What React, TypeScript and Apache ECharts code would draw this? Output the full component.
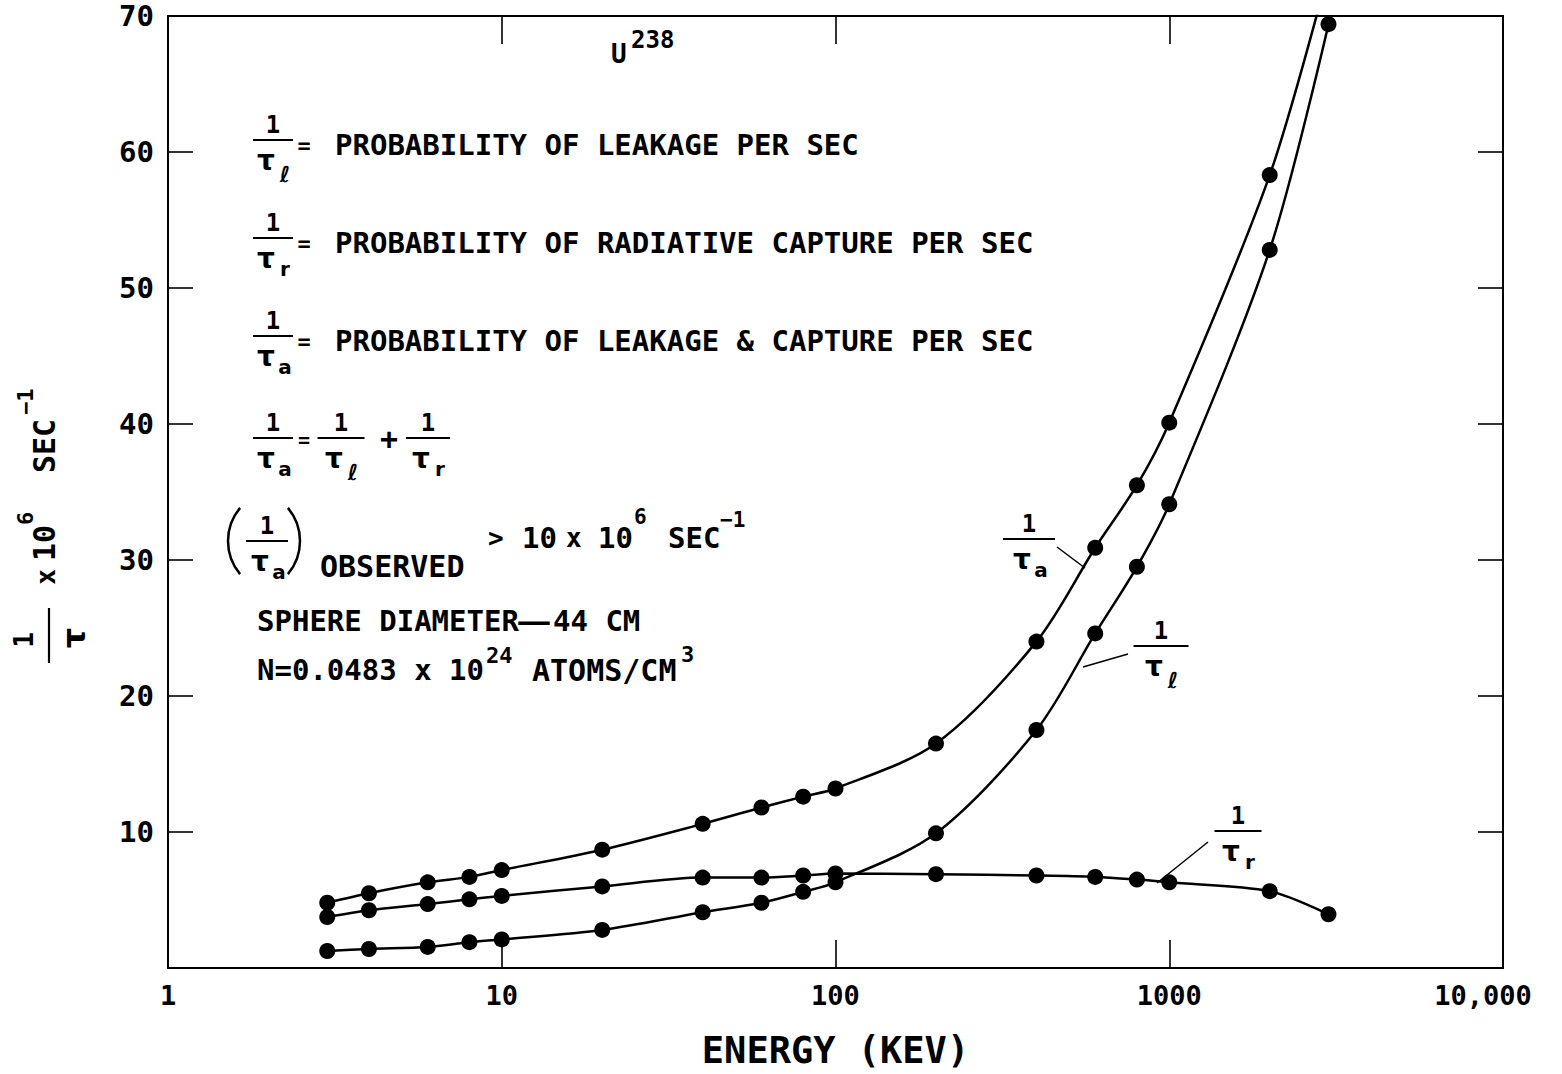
import React, { useEffect, useRef } from "react";
import * as echarts from "echarts";

// ---- data ----
const energyKeV = [3, 4, 6, 8, 10, 20, 40, 60, 80, 100, 200, 400, 600, 800, 1000, 2000, 3000];
// 1/tau_a (leakage & capture); last value only continues the curve above the frame
const invTauA = [4.8, 5.5, 6.3, 6.7, 7.2, 8.7, 10.6, 11.8, 12.6, 13.2, 16.5, 24.0, 30.9, 35.5, 40.1, 58.3, 73.3];
// 1/tau_l (leakage)
const invTauL = [1.25, 1.4, 1.55, 1.9, 2.1, 2.8, 4.1, 4.8, 5.6, 6.3, 9.9, 17.5, 24.6, 29.5, 34.1, 52.8, 69.4];
// 1/tau_r (radiative capture)
const invTauR = [3.75, 4.25, 4.7, 5.05, 5.3, 6.0, 6.65, 6.65, 6.8, 6.95, 6.9, 6.8, 6.7, 6.5, 6.3, 5.65, 3.95];

const xTickLabels = ["1", "10", "100", "1000", "10,000"];
const yTickValues = [10, 20, 30, 40, 50, 60, 70];
const definitionTexts = [
  "PROBABILITY OF LEAKAGE PER SEC",
  "PROBABILITY OF RADIATIVE CAPTURE PER SEC",
  "PROBABILITY OF LEAKAGE & CAPTURE PER SEC",
];
const definitionSubs = ["ℓ", "r", "a"];

const MONO = "'DejaVu Sans Mono', 'DejaVu Sans', monospace";
const GREEK = "'DejaVu Sans', sans-serif";

function txt(x: number, y: number, text: string, size: number, align = "left", family = MONO, extra: any = {}, props: any = {}) {
  return {
    type: "text",
    x,
    y,
    silent: true,
    z: 10,
    ...props,
    style: {
      text,
      fontSize: size,
      fontFamily: family,
      fontWeight: "bold",
      fill: "#000",
      align,
      verticalAlign: "middle",
      ...extra,
    },
  };
}

function ln(x1: number, y1: number, x2: number, y2: number, w = 2) {
  return { type: "line", silent: true, z: 10, shape: { x1, y1, x2, y2 }, style: { stroke: "#000", lineWidth: w } };
}

function frac(cx: number, bar: number, w: number, sub: string) {
  const els: any[] = [
    txt(cx, bar - 15, "1", 24, "center"),
    ln(cx - w / 2, bar, cx + w / 2, bar, 2.2),
    txt(cx - 7, bar + 20, "τ", 28, "center", GREEK),
  ];
  if (sub === "ℓ") els.push(txt(cx + 12, bar + 34, sub, 22, "center", GREEK, { fontStyle: "italic" }));
  else els.push(txt(cx + 12, bar + 31, sub, 20, "center", GREEK));
  return els;
}

const nb = (s: string) => s.split(" ").join("\u00a0");

function buildGraphic() {
  const g: any[] = [];
  // U238
  g.push(txt(611, 54, "U", 26));
  g.push(txt(631, 40, "238", 24));
  // definitions
  const rowY = [145, 243, 341];
  rowY.forEach((yc, i) => {
    g.push(...frac(273, yc - 5, 40, definitionSubs[i]));
    g.push(txt(304, yc, "=", 22, "center"));
    g.push(txt(335, yc, nb(definitionTexts[i]), 29));
  });
  // 1/ta = 1/tl + 1/tr
  const b4 = 438;
  g.push(...frac(273, b4, 40, "a"));
  g.push(txt(304, b4 + 2, "=", 20, "center"));
  g.push(...frac(341, b4, 47, "ℓ"));
  g.push(txt(389, b4, "+", 30, "center"));
  g.push(...frac(428, b4, 44, "r"));
  // (1/ta) observed
  const b5 = 541;
  const r = 51.4;
  g.push({ type: "arc", silent: true, z: 10, shape: { cx: 228 + r, cy: b5, r, startAngle: Math.PI - 0.7, endAngle: Math.PI + 0.7, clockwise: true }, style: { stroke: "#000", lineWidth: 2.5 } });
  g.push({ type: "arc", silent: true, z: 10, shape: { cx: 300 - r, cy: b5, r, startAngle: -0.7, endAngle: 0.7, clockwise: true }, style: { stroke: "#000", lineWidth: 2.5 } });
  g.push(...frac(267, b5, 42, "a"));
  g.push(txt(320, 566, "OBSERVED", 30));
  g.push(txt(488, 538, ">", 26));
  g.push(txt(522, 538, "10", 29));
  g.push(txt(566, 538, "x", 26));
  g.push(txt(598, 538, "10", 29));
  g.push(txt(634, 517, "6", 21));
  g.push(txt(668, 538, "SEC", 29));
  g.push(txt(720, 520, "−1", 21));
  // sphere
  g.push(txt(257, 621, nb("SPHERE DIAMETER"), 29));
  g.push(txt(534, 621, "—", 29, "center", MONO, {}, { scaleX: 1.8 }));
  g.push(txt(553, 621, nb("44 CM"), 29));
  g.push(txt(257, 670, nb("N=0.0483 x 10"), 29));
  g.push(txt(486, 655, "24", 22));
  g.push(txt(532, 670, "ATOMS/CM", 30));
  g.push(txt(681, 654, "3", 22));
  // curve labels
  g.push(...frac(1029, 539, 52, "a"));
  g.push(ln(1057, 547, 1085, 568, 1.5));
  g.push(...frac(1161, 646, 55, "ℓ"));
  g.push(ln(1128, 654, 1083, 667, 1.5));
  g.push(...frac(1238, 831, 47, "r"));
  g.push(ln(1208, 842, 1157, 883, 1.5));
  // y axis title (rotated)
  g.push({
    type: "group",
    x: 0,
    y: 665,
    rotation: Math.PI / 2,
    children: [
      txt(25, 24, "1", 26, "center"),
      ln(2, 49, 57, 49, 2.2),
      txt(27, 74, "τ", 32, "center", GREEK),
      txt(88, 46, "x", 26, "center"),
      txt(104, 44, "10", 30),
      txt(140, 25, "6", 22),
      txt(192, 44, "SEC", 30),
      txt(250, 25, "−1", 22),
    ],
  });
  return g;
}

function curve(vals: number[]) {
  return {
    type: "line",
    xAxisIndex: 0,
    yAxisIndex: 0,
    data: energyKeV.map((e, i) => [e, vals[i]]),
    smooth: 0.3,
    symbol: "circle",
    symbolSize: 16,
    showSymbol: true,
    clip: true,
    silent: true,
    itemStyle: { color: "#000" },
    lineStyle: { color: "#000", width: 2.5 },
    emphasis: { disabled: true },
    z: 3,
  };
}

export default function App() {
  const ref = useRef<HTMLDivElement>(null);
  useEffect(() => {
    if (!ref.current) return;
    const chart = echarts.init(ref.current, null, { renderer: "svg" });
    const axisLine = { show: true, onZero: false, lineStyle: { color: "#000", width: 2 } };
    const xCommon = {
      type: "log",
      logBase: 10,
      min: 1,
      max: 10000,
      axisLine,
      splitLine: { show: false },
      minorTick: { show: false },
      axisTick: { show: true, inside: true, length: 28, lineStyle: { color: "#000", width: 1.6 } },
    };
    const yCommon = {
      type: "value",
      min: 0,
      max: 70,
      interval: 10,
      axisLine,
      splitLine: { show: false },
      axisTick: { show: true, inside: true, length: 25, lineStyle: { color: "#000", width: 1.6 } },
    };
    chart.setOption({
      animation: false,
      backgroundColor: "#fff",
      grid: { left: 168, right: 59, top: 16, bottom: 99, containLabel: false },
      xAxis: [
        {
          ...xCommon,
          position: "bottom",
          axisLabel: {
            margin: 14,
            fontSize: 27,
            fontFamily: MONO,
            fontWeight: "bold",
            color: "#000",
            formatter: (v: number) => {
              const s = xTickLabels[Math.round(Math.log10(v))] ?? "";
              return s.length > 4 ? "{w|" + s + "}" : s;
            },
            rich: {
              w: { fontSize: 27, fontFamily: MONO, fontWeight: "bold", color: "#000", padding: [0, 40, 0, 0] },
            },
          },
          name: "ENERGY (KEV)",
          nameLocation: "middle",
          nameGap: 64,
          nameTextStyle: { fontSize: 37, fontFamily: MONO, fontWeight: "bold", color: "#000" },
        },
        { ...xCommon, position: "top", axisLabel: { show: false } },
      ],
      yAxis: [
        {
          ...yCommon,
          position: "left",
          axisLabel: {
            margin: 14,
            fontSize: 29,
            fontFamily: MONO,
            fontWeight: "bold",
            color: "#000",
            formatter: (v: number) => (yTickValues.includes(v) ? String(v) : ""),
          },
        },
        { ...yCommon, position: "right", axisLabel: { show: false } },
      ],
      series: [curve(invTauA), curve(invTauL), curve(invTauR)],
      graphic: buildGraphic(),
    });
    return () => chart.dispose();
  }, []);
  return (
    <div
      ref={ref}
      style={{ position: "fixed", left: 0, top: 0, width: 1562, height: 1074, background: "#fff" }}
    />
  );
}
